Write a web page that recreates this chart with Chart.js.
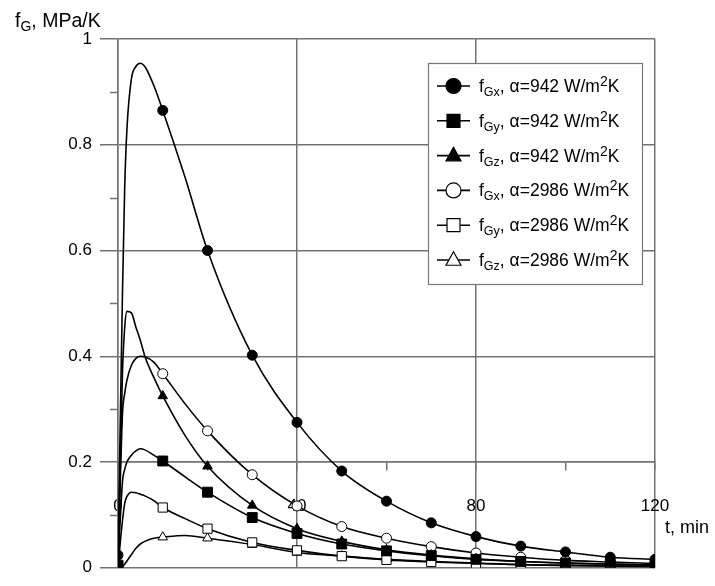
<!DOCTYPE html>
<html>
<head>
<meta charset="utf-8">
<script src="https://cdn.jsdelivr.net/npm/chart.js@4/dist/chart.umd.min.js"></script>
<style>
html,body{margin:0;padding:0;background:#fff;}
#wrap{width:715px;height:586px;position:relative;}
</style>
</head>
<body>
<div id="wrap"><canvas id="c"></canvas></div>
<script>
// time, min
const T = [0,1,1.5,2,3,4,5,6,8,10,15,20,30,40,50,60,70,80,90,100,110,120];
// f_G, MPa/K
const fGx942  = [0.024,0.52,0.72,0.83,0.925,0.948,0.954,0.948,0.912,0.865,0.738,0.600,0.402,0.275,0.183,0.126,0.085,0.059,0.041,0.030,0.020,0.016];
const fGy942  = [0.005,0.163,0.186,0.200,0.213,0.221,0.225,0.223,0.213,0.202,0.172,0.143,0.095,0.065,0.045,0.032,0.023,0.016,0.012,0.009,0.007,0.005];
const fGz942  = [0.005,0.37,0.455,0.485,0.482,0.455,0.43,0.40,0.36,0.325,0.25,0.192,0.118,0.074,0.050,0.034,0.024,0.017,0.012,0.009,0.007,0.005];
const fGx2986 = [0.003,0.29,0.33,0.355,0.383,0.396,0.40,0.399,0.389,0.367,0.31,0.259,0.176,0.117,0.078,0.056,0.040,0.028,0.020,0.014,0.011,0.008];
const fGy2986 = [0.002,0.089,0.122,0.135,0.143,0.142,0.139,0.136,0.127,0.114,0.093,0.074,0.048,0.033,0.022,0.015,0.011,0.008,0.006,0.004,0.003,0.002];
const fGz2986 = [0.0,0.002,0.007,0.013,0.025,0.037,0.045,0.050,0.056,0.058,0.061,0.056,0.044,0.029,0.022,0.016,0.012,0.009,0.006,0.005,0.004,0.003];

const seriesSub   = ['Gx','Gy','Gz','Gx','Gy','Gz'];
const seriesAlpha = ['942','942','942','2986','2986','2986'];
const xTicks = [0,40,80,120];
const yTicks = [0,0.2,0.4,0.6,0.8,1];
const yTitleMain = 'f', yTitleSub = 'G', yTitleRest = ', MPa/K';
const xTitle = 't, min';

const FONT = '"Liberation Sans", Arial, sans-serif';
const GRID = '#727272';

const styles = [
  {shape:'circle',   fill:true,  r:5},
  {shape:'rect',     fill:true,  r:7},
  {shape:'triangle', fill:true,  r:5.5},
  {shape:'circle',   fill:false, r:5},
  {shape:'rect',     fill:false, r:6.5},
  {shape:'triangle', fill:false, r:5.5}
];
const allValues = [fGx942,fGy942,fGz942,fGx2986,fGy2986,fGz2986];

function mk(vals){ return T.map((t,i)=>({x:t,y:vals[i]})); }

const datasets = allValues.map((vals,k)=>({
  label: 'f' + seriesSub[k] + ', α=' + seriesAlpha[k] + ' W/m2K',
  data: mk(vals),
  borderColor:'#000',
  borderWidth:1.6,
  backgroundColor: styles[k].fill ? '#000' : '#fff',
  pointBorderColor:'#000',
  pointBorderWidth:1,
  pointStyle: styles[k].shape,
  pointRadius: ctx => (ctx.raw && ctx.raw.x % 10 === 0) ? styles[k].r : 0,
  pointHoverRadius: 0,
  cubicInterpolationMode:'monotone',
  fill:false,
  order: k
}));

function richText(ctx, parts, x, y){
  let cx = x;
  parts.forEach(p=>{
    ctx.font = p.size + 'px ' + FONT;
    ctx.fillText(p.t, cx, y + (p.dy||0));
    cx += ctx.measureText(p.t).width;
  });
  return cx;
}

function drawMarker(ctx, shape, fill, x, y, s){
  ctx.save();
  ctx.beginPath();
  if(shape==='circle'){ ctx.arc(x,y,s,0,Math.PI*2); }
  else if(shape==='rect'){ ctx.rect(x-s,y-s,2*s,2*s); }
  else { ctx.moveTo(x,y-s*1.1); ctx.lineTo(x+s,y+s*0.7); ctx.lineTo(x-s,y+s*0.7); ctx.closePath(); }
  ctx.fillStyle = fill ? '#000' : '#fff';
  ctx.fill();
  ctx.lineWidth = 1.2; ctx.strokeStyle='#000'; ctx.stroke();
  ctx.restore();
}

const extras = {
  id:'extras',
  beforeDatasetsDraw(chart){
    const ctx = chart.ctx, y = chart.scales.y, a = chart.chartArea;
    ctx.save();
    ctx.strokeStyle = GRID; ctx.lineWidth = 1.5;
    [0.1,0.3,0.5,0.7,0.9].forEach(v=>{
      const py = Math.round(y.getPixelForValue(v)) + 0.5;
      ctx.beginPath(); ctx.moveTo(a.left-8, py); ctx.lineTo(a.left, py); ctx.stroke();
    });
    ctx.restore();
  },
  afterDraw(chart){
    const ctx = chart.ctx;
    ctx.save();
    ctx.fillStyle = '#000';
    ctx.textBaseline = 'alphabetic';
    // y title
    richText(ctx, [{t:yTitleMain,size:19.5},{t:yTitleSub,size:14,dy:4},{t:yTitleRest,size:19.5}], 15, 27);
    // x title
    ctx.font = '18px ' + FONT;
    ctx.fillText(xTitle, 665, 533);
    // legend
    const bx = 428, by = 63, bw = 214, bh = 221;
    ctx.fillStyle = '#fff';
    ctx.fillRect(bx,by,bw,bh);
    ctx.strokeStyle = '#777'; ctx.lineWidth = 1.2;
    ctx.strokeRect(bx+0.5,by+0.5,bw,bh);
    const lsz = [7.5,6.5,7.5,7.5,6.5,7.5];
    for(let k=0;k<6;k++){
      const cy = 86 + k*34.8;
      ctx.strokeStyle='#000'; ctx.lineWidth=1.6;
      ctx.beginPath(); ctx.moveTo(437,cy); ctx.lineTo(470,cy); ctx.stroke();
      drawMarker(ctx, styles[k].shape, styles[k].fill, 453.5, cy, lsz[k]);
      ctx.fillStyle='#000';
      richText(ctx, [
        {t:'f',size:17.5},
        {t:seriesSub[k],size:12.5,dy:4},
        {t:', α='+seriesAlpha[k]+' W/m',size:17.5},
        {t:'2',size:14,dy:-6},
        {t:'K',size:17.5}
      ], 479, cy+6);
    }
    ctx.restore();
  }
};

new Chart(document.getElementById('c'), {
  type:'line',
  data:{datasets},
  plugins:[extras],
  options:{
    responsive:true,
    maintainAspectRatio:false,
    animation:false,
    events:[],
    layout:{padding:{top:39,right:60,bottom:8,left:0}},
    plugins:{legend:{display:false},tooltip:{enabled:false}},
    scales:{
      x:{
        type:'linear', min:0, max:120,
        position:{y:0.2},
        afterFit: s => { s.height = 0; },
        ticks:{
          stepSize:20, autoSkip:false, maxRotation:0,
          color:'#000', font:{family:FONT,size:17}, padding:26,
          callback: v => xTicks.includes(v) ? String(v) : ''
        },
        grid:{
          color: c => (c.tick && xTicks.includes(c.tick.value)) ? GRID : 'rgba(0,0,0,0)',
          tickColor: GRID, lineWidth:1.5, tickWidth:1.5, tickLength:8, drawTicks:true
        },
        border:{display:true,color:GRID,width:1.5}
      },
      y:{
        type:'linear', min:0, max:1,
        afterFit: s => { s.width = 118; },
        ticks:{
          stepSize:0.2, autoSkip:false,
          color:'#000', font:{family:FONT,size:17}, padding:8,
          callback: v => { const r = Math.round(v*10)/10; return yTicks.includes(r) ? String(r) : ''; }
        },
        grid:{color:GRID, tickColor:GRID, lineWidth:1.5, tickLength:18},
        border:{display:true,color:GRID,width:1.5}
      }
    }
  }
});
</script>
</body>
</html>
